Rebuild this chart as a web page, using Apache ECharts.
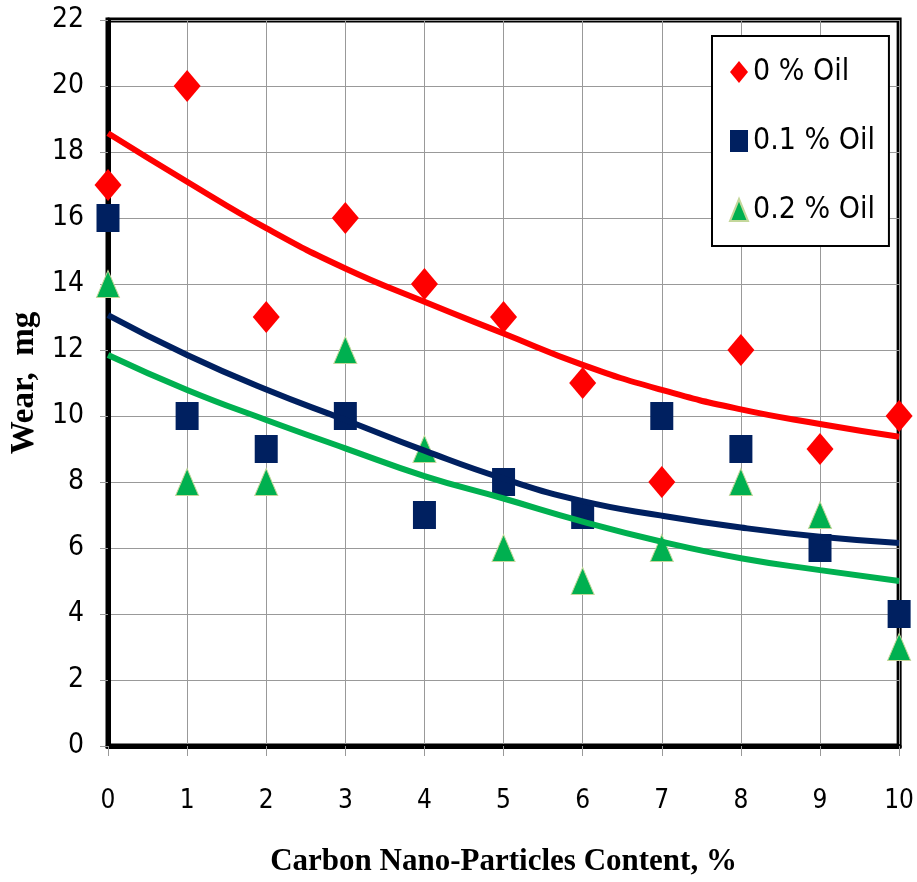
<!DOCTYPE html>
<html>

<head>
    <meta charset="utf-8">
    <title>Wear vs Carbon Nano-Particles Content</title>
    <style>
        html, body { margin: 0; padding: 0; background: #fff; }
    </style>
</head>

<body>
    <div id="main" style="width: 917px;height:882px;"></div>
    <script src="https://cdn.jsdelivr.net/npm/echarts@6/dist/echarts.min.js" charset="utf-8"></script>
    <script>
    // carbon content, %
    var content = [0, 1, 2, 3, 4, 5, 6, 7, 8, 9, 10];
    // measured wear, mg
    var wear0 = [17, 20, 13, 16, 14, 13, 11, 8, 12, 9, 10];
    var wear01 = [16, 10, 9, 10, 7, 8, 7, 10, 9, 6, 4];
    var wear02 = [14, 8, 8, 12, 9, 6, 5, 6, 8, 7, 3];
    // trend lines at each x
    var trend0 = [18.57, 17.1, 15.69, 14.47, 13.46, 12.5, 11.55, 10.79, 10.2, 9.76, 9.37];
    var trend01 = [13.06, 11.85, 10.8, 9.88, 8.95, 8.1, 7.42, 6.98, 6.62, 6.34, 6.15];
    var trend02 = [11.85, 10.79, 9.88, 9.02, 8.18, 7.5, 6.8, 6.19, 5.69, 5.33, 5.0];
    var names = ['0 % Oil', '0.1 % Oil', '0.2 % Oil'];

    function pairs(ys) {
        return content.map(function(x, i) { return [x, ys[i]]; });
    }

    var labelFont = "'Liberation Sans Narrow', 'DejaVu Sans Condensed', sans-serif";
    var titleFont = "'Liberation Serif', 'DejaVu Serif', serif";

    var myChart = echarts.init(document.getElementById('main'));
    var option = {
        animation: false,
        grid: {
            left: 108,
            right: 17,
            top: 20,
            bottom: 136,
            show: true,
            borderColor: '#000',
            borderWidth: 5
        },
        legend: {
            data: names,
            orient: 'vertical',
            left: 712,
            top: 36,
            width: 168,
            backgroundColor: '#fff',
            borderColor: '#000',
            borderWidth: 2,
            padding: [21, 14, 21, 17],
            itemGap: 39,
            itemWidth: 18,
            itemHeight: 22,
            textStyle: {
                fontFamily: labelFont,
                fontSize: 30,
                color: '#000'
            }
        },
        xAxis: {
            type: 'value',
            min: 0,
            max: 10,
            interval: 1,
            name: 'Carbon Nano-Particles Content, %',
            nameLocation: 'middle',
            nameGap: 100,
            nameTextStyle: {
                fontFamily: titleFont,
                fontWeight: 'bold',
                fontSize: 31,
                color: '#000'
            },
            axisLine: { show: true, lineStyle: { color: '#000', width: 5 } },
            axisTick: { show: true, length: 10, lineStyle: { color: '#999', width: 1 } },
            axisLabel: {
                margin: 42,
                fontFamily: labelFont,
                fontSize: 26,
                color: '#000'
            },
            splitLine: { show: true, lineStyle: { color: '#999', width: 1 } }
        },
        yAxis: {
            type: 'value',
            min: 0,
            max: 22,
            interval: 2,
            name: 'Wear,  mg',
            nameLocation: 'middle',
            nameRotate: 90,
            nameGap: 58,
            nameTextStyle: {
                fontFamily: titleFont,
                fontWeight: 'bold',
                fontSize: 33,
                color: '#000'
            },
            axisLine: { show: true, lineStyle: { color: '#000', width: 5 } },
            axisTick: { show: true, length: 8, lineStyle: { color: '#999', width: 1 } },
            axisLabel: {
                margin: 24,
                fontFamily: labelFont,
                fontSize: 28,
                color: '#000'
            },
            splitLine: { show: true, lineStyle: { color: '#999', width: 1 } }
        },
        series: [{
            name: names[0],
            type: 'scatter',
            symbol: 'diamond',
            symbolSize: [27, 32],
            itemStyle: { color: '#ff0000', opacity: 1 },
            z: 2,
            data: pairs(wear0)
        }, {
            name: names[1],
            type: 'scatter',
            symbol: 'rect',
            symbolSize: [23, 28],
            itemStyle: { color: '#002060', opacity: 1 },
            z: 2,
            data: pairs(wear01)
        }, {
            name: names[2],
            type: 'scatter',
            symbol: 'triangle',
            symbolSize: [23, 27],
            itemStyle: { color: '#00b050', borderColor: '#c4d79b', borderWidth: 1, opacity: 1 },
            z: 2,
            data: pairs(wear02)
        }, {
            name: 'trend0',
            type: 'line',
            smooth: true,
            showSymbol: false,
            lineStyle: { color: '#ff0000', width: 6 },
            z: 3,
            data: pairs(trend0)
        }, {
            name: 'trend01',
            type: 'line',
            smooth: true,
            showSymbol: false,
            lineStyle: { color: '#002060', width: 6 },
            z: 3,
            data: pairs(trend01)
        }, {
            name: 'trend02',
            type: 'line',
            smooth: true,
            showSymbol: false,
            lineStyle: { color: '#00b050', width: 6 },
            z: 3,
            data: pairs(trend02)
        }]
    };
    myChart.setOption(option);
    </script>
</body>

</html>
